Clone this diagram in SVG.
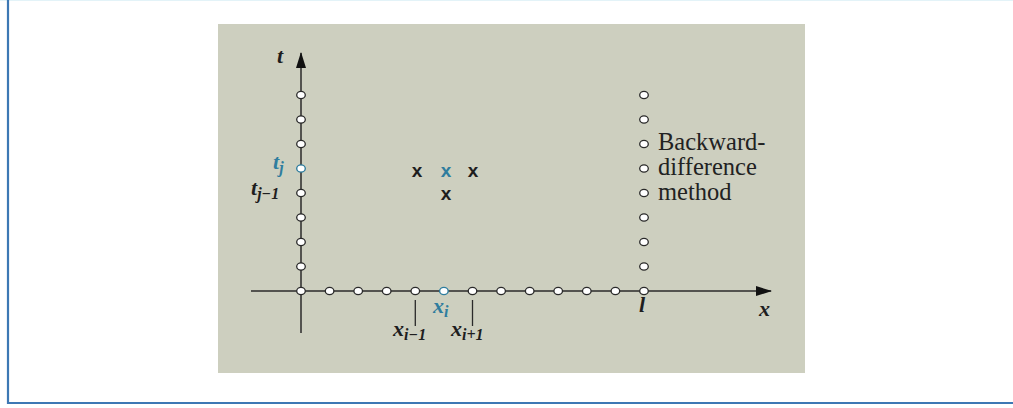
<svg xmlns="http://www.w3.org/2000/svg" width="1013" height="408" viewBox="0 0 1013 408">
<style>
.pt{fill:#fff;stroke:#2a2a2a;stroke-width:1.3}
.ptb{fill:#fff;stroke:#2f7d9e;stroke-width:1.4}
.ax{stroke:#2a2a2a;stroke-width:1.5;fill:none}
.tk{stroke:#2a2a2a;stroke-width:1.3}
.m{font-family:"Liberation Serif","Times New Roman",serif;font-style:italic;font-weight:bold;fill:#1e1e1e;font-size:22px}
.sub{font-size:16px}
.cr{font-family:"Liberation Sans",Arial,sans-serif;font-weight:bold;font-size:19px;fill:#1e1e1e;text-anchor:middle}
.lab{font-family:"Liberation Serif","Times New Roman",serif;font-size:24.5px;fill:#222}
text.blue{fill:#2f7d9e}
</style>
<defs>
<marker id="arr" viewBox="0 0 16 10" refX="15" refY="5" markerWidth="16" markerHeight="10" markerUnits="userSpaceOnUse" orient="auto">
<path d="M0,0 L16,5 L0,10 Z" fill="#111"/>
</marker>
</defs>
<rect width="1013" height="408" fill="#fff"/>
<line x1="0" y1="0.5" x2="1013" y2="0.5" stroke="#e3f3f8" stroke-width="1"/>
<path d="M8,0 L8,403 L1013,403" fill="none" stroke="#3d78b4" stroke-width="2.2"/>
<rect id="panel" x="218" y="24" width="587" height="349" fill="#cdcfbf"/>
<g id="connectors">
<line class="ax" x1="251" y1="291" x2="771" y2="291" marker-end="url(#arr)"/>
<line class="ax" x1="301" y1="333" x2="301" y2="53" marker-end="url(#arr)"/>
<line class="tk" x1="415.3" y1="300" x2="415.3" y2="326"/>
<line class="tk" x1="472.5" y1="300" x2="472.5" y2="326"/>
</g>
<g id="t-points">
<ellipse class="pt" cx="301" cy="95" rx="4.3" ry="3.6"/>
<ellipse class="pt" cx="301" cy="119.5" rx="4.3" ry="3.6"/>
<ellipse class="pt" cx="301" cy="144" rx="4.3" ry="3.6"/>
<ellipse class="ptb" cx="301" cy="168.5" rx="4.3" ry="3.6"/>
<ellipse class="pt" cx="301" cy="193" rx="4.3" ry="3.6"/>
<ellipse class="pt" cx="301" cy="217.5" rx="4.3" ry="3.6"/>
<ellipse class="pt" cx="301" cy="242" rx="4.3" ry="3.6"/>
<ellipse class="pt" cx="301" cy="266.5" rx="4.3" ry="3.6"/>
</g>
<g id="x-points">
<ellipse class="pt" cx="301" cy="291" rx="4.3" ry="3.6"/>
<ellipse class="pt" cx="329.6" cy="291" rx="4.3" ry="3.6"/>
<ellipse class="pt" cx="358.2" cy="291" rx="4.3" ry="3.6"/>
<ellipse class="pt" cx="386.7" cy="291" rx="4.3" ry="3.6"/>
<ellipse class="pt" cx="415.3" cy="291" rx="4.3" ry="3.6"/>
<ellipse class="ptb" cx="443.9" cy="291" rx="4.3" ry="3.6"/>
<ellipse class="pt" cx="472.5" cy="291" rx="4.3" ry="3.6"/>
<ellipse class="pt" cx="501.1" cy="291" rx="4.3" ry="3.6"/>
<ellipse class="pt" cx="529.7" cy="291" rx="4.3" ry="3.6"/>
<ellipse class="pt" cx="558.2" cy="291" rx="4.3" ry="3.6"/>
<ellipse class="pt" cx="586.8" cy="291" rx="4.3" ry="3.6"/>
<ellipse class="pt" cx="615.4" cy="291" rx="4.3" ry="3.6"/>
<ellipse class="pt" cx="644" cy="291" rx="4.3" ry="3.6"/>
</g>
<g id="l-points">
<ellipse class="pt" cx="644" cy="95" rx="4.3" ry="3.6"/>
<ellipse class="pt" cx="644" cy="119.5" rx="4.3" ry="3.6"/>
<ellipse class="pt" cx="644" cy="144" rx="4.3" ry="3.6"/>
<ellipse class="pt" cx="644" cy="168.5" rx="4.3" ry="3.6"/>
<ellipse class="pt" cx="644" cy="193" rx="4.3" ry="3.6"/>
<ellipse class="pt" cx="644" cy="217.5" rx="4.3" ry="3.6"/>
<ellipse class="pt" cx="644" cy="242" rx="4.3" ry="3.6"/>
<ellipse class="pt" cx="644" cy="266.5" rx="4.3" ry="3.6"/>
</g>
<g id="stencil">
<text class="cr" x="417" y="177">x</text>
<text class="cr blue" x="446" y="177">x</text>
<text class="cr" x="473" y="177">x</text>
<text class="cr" x="446" y="200">x</text>
</g>
<g id="axis-labels">
<text class="m" x="277" y="63">t</text>
<text class="m blue" x="273" y="169">t<tspan class="sub" dy="4">j</tspan></text>
<text class="m" x="251" y="195">t<tspan class="sub" dy="4">j−1</tspan></text>
<text class="m blue" x="433" y="313">x<tspan class="sub" dy="4">i</tspan></text>
<text class="m" x="393" y="336">x<tspan class="sub" dy="4">i−1</tspan></text>
<text class="m" x="451" y="336">x<tspan class="sub" dy="4">i+1</tspan></text>
<text class="m" x="639" y="312">l</text>
<text class="m" x="759" y="316">x</text>
</g>
<g id="method-label">
<text class="lab" x="658" y="150">Backward-</text>
<text class="lab" x="658" y="175">difference</text>
<text class="lab" x="658" y="200">method</text>
</g>
</svg>
